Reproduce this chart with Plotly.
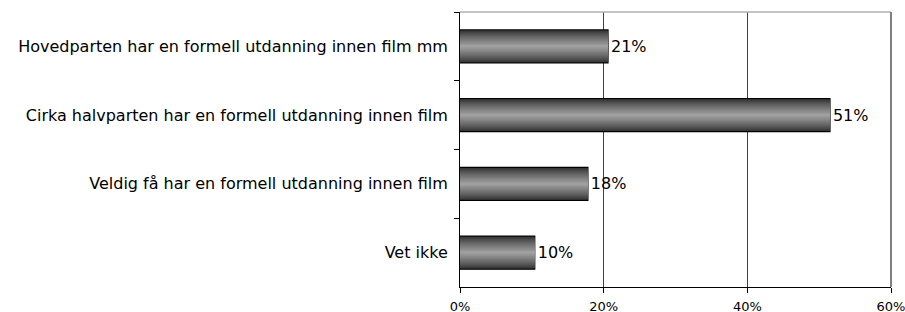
import plotly.graph_objects as go

categories = [
    "Hovedparten har en formell utdanning innen film mm",
    "Cirka halvparten har en formell utdanning innen film",
    "Veldig få har en formell utdanning innen film",
    "Vet ikke",
]
values = [20.6, 51.5, 17.8, 10.4]
value_labels = ["21%", "51%", "18%", "10%"]
x_ticks = [0, 20, 40, 60]
x_tick_labels = ["0%", "20%", "40%", "60%"]

FONT = "DejaVu Sans, Liberation Sans, Arial"

fig = go.Figure()

# gradient simulation: overlaid bars of decreasing width, dark edges -> light centre
n_layers = 24
full_w = 0.48
dark = (45, 45, 45)
light = (160, 160, 160)
for i in range(n_layers):
    t = i / (n_layers - 1)
    w = full_w * (1 - i / n_layers)
    c = tuple(int(dark[k] + (light[k] - dark[k]) * (t ** 0.8)) for k in range(3))
    first = i == 0
    fig.add_trace(go.Bar(
        y=categories, x=values, orientation="h", width=w,
        marker=dict(color="rgb(%d,%d,%d)" % c,
                    line=dict(color="black" if first else "rgba(0,0,0,0)", width=1.3 if first else 0)),
        text=value_labels if first else None,
        textposition="outside" if first else "none",
        textfont=dict(family=FONT, size=16, color="black"),
        cliponaxis=False, hoverinfo="skip", showlegend=False,
    ))

fig.update_layout(
    width=905, height=312,
    margin=dict(l=460, r=14, t=12, b=25, autoexpand=False),
    barmode="overlay",
    plot_bgcolor="white", paper_bgcolor="white",
    font=dict(family=FONT, color="black"),
)
fig.update_xaxes(
    range=[0, 60], tickvals=x_ticks, ticktext=x_tick_labels,
    showgrid=True, gridcolor="#404040", gridwidth=1,
    showline=True, linecolor="black", linewidth=1,
    ticks="outside", ticklen=5, tickcolor="black",
    tickfont=dict(size=13, family=FONT),
    ticklabelstandoff=2, ticklabeloverflow="allow",
    zeroline=False, fixedrange=True, automargin=False,
)
fig.update_yaxes(
    categoryorder="array", categoryarray=categories, autorange="reversed",
    tickson="boundaries", ticks="outside", ticklen=5, tickcolor="black",
    showline=True, linecolor="black", linewidth=1, showgrid=False,
    tickfont=dict(size=16, family=FONT),
    ticklabelstandoff=8, fixedrange=True, automargin=False,
)
# plot frame: top (light gray) and right (gray)
fig.add_shape(type="line", xref="paper", yref="paper", x0=0, x1=1, y0=1, y1=1,
              line=dict(color="#b0b0b0", width=1.5))
fig.add_shape(type="line", xref="paper", yref="paper", x0=1, x1=1, y0=0, y1=1,
              line=dict(color="#808080", width=2))

fig.write_html(
    "out.html",
    config={"displayModeBar": False},
    post_script="document.body.style.margin='0';document.body.style.overflow='hidden';",
)
